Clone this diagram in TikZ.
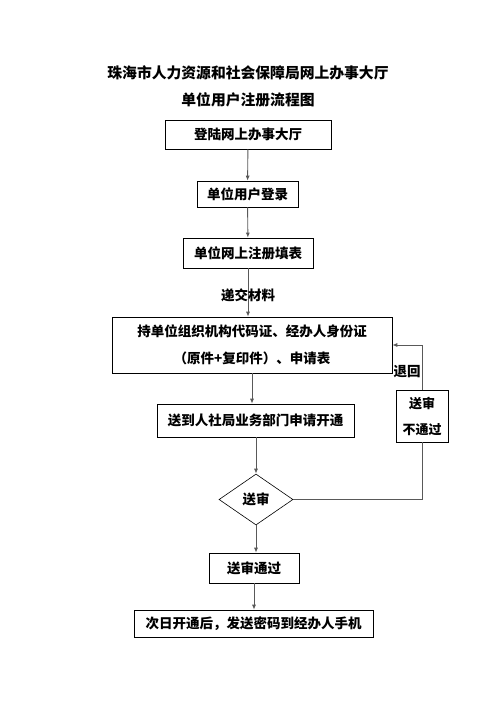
\documentclass[tikz,border=0pt]{standalone}
\usepackage{fontspec}
\setmainfont{Noto Sans CJK SC}
\usetikzlibrary{arrows.meta,shapes.geometric}
\tikzset{
  box/.style={draw, line width=0.6pt, inner sep=0pt, align=center},
  flow/.style={draw=black!65, line width=0.9pt, -{Latex[length=5pt,width=4pt]}},
  link/.style={draw=black!65, line width=0.9pt},
}
\begin{document}
\begin{tikzpicture}[x=1pt, y=-1pt, font=\bfseries\fontsize{13.5}{16}\selectfont]
  \useasboundingbox (0,0) rectangle (496,702);
  % title
  \node (title) at (248,73) {\fontsize{14.8}{18}\selectfont 珠海市人力资源和社会保障局网上办事大厅};
  \node (subtitle) at (248,100) {\fontsize{14.8}{18}\selectfont 单位用户注册流程图};
  % steps
  \node[box, minimum width=166, minimum height=29] (login) at (248,134.5) {登陆网上办事大厅};
  \node[box, minimum width=101, minimum height=26] (user) at (247.5,194) {单位用户登录};
  \node[box, minimum width=130, minimum height=30] (form) at (248,253) {单位网上注册填表};
  \node[box, minimum width=280, minimum height=56, font=\bfseries\fontsize{13.5}{27}\selectfont] (docs) at (252,345)
    {持单位组织机构代码证、经办人身份证\\（原件+复印件）、申请表};
  \node[box, minimum width=197, minimum height=33] (dept) at (255.5,420.5) {送到人社局业务部门申请开通};
  \node[box, diamond, aspect=1.45, minimum width=74, minimum height=51] (check) at (256,499.5) {送审};
  \node[box, minimum width=52, minimum height=52, font=\bfseries\fontsize{13}{26}\selectfont] (reject) at (422,416) {送审\\不通过};
  \node[box, minimum width=90, minimum height=30] (pass) at (254,568) {送审通过};
  \node[box, minimum width=239, minimum height=27] (sms) at (253.5,623.5) {次日开通后，发送密码到经办人手机};
  % connectors
  \draw[flow] (login) -- (user);
  \draw[flow] (user) -- (form);
  \draw[flow] (form.south) -- (form.south |- docs.north);
  \node (submit) at (248,295) {递交材料};
  \draw[flow] (docs.south) -- (docs.south |- dept.north);
  \draw[flow] (dept.south -| check.north) -- (check.north);
  \draw[flow] (check.south) -- (check.south |- pass.north);
  \draw[flow] (pass.south) -- (pass.south |- sms.north);
  \draw[link] (check.east) -| (reject.south);
  \draw[flow] (reject.north) |- (docs.east);
  \node (back) at (407,372) {退回};
\end{tikzpicture}
\end{document}
